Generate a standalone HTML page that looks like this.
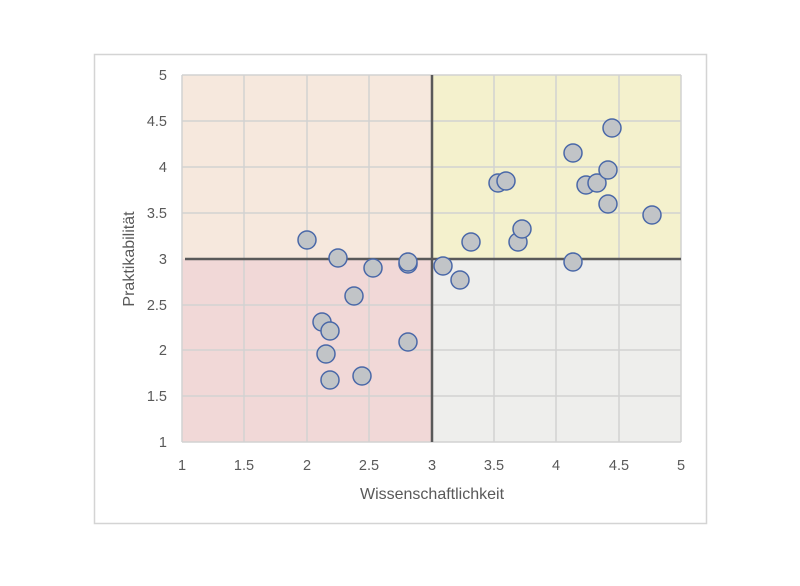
<!DOCTYPE html>
<html><head><meta charset="utf-8"><style>body{margin:0;background:#fff}</style></head><body>
<svg width="800" height="581" xmlns="http://www.w3.org/2000/svg" font-family="Liberation Sans, sans-serif">
<rect x="0" y="0" width="800" height="581" fill="#fff"/>
<rect x="94.5" y="54.5" width="612" height="469" fill="#fff" stroke="#d4d4d4" stroke-width="1.5"/>
<rect x="182" y="75" width="250" height="184" fill="#f6e8dd"/>
<rect x="432" y="75" width="249" height="184" fill="#f4f1cd"/>
<rect x="182" y="259" width="250" height="183" fill="#f1d8d7"/>
<rect x="432" y="259" width="249" height="183" fill="#eeeeec"/>
<g stroke="#d2d2d2" stroke-width="1.5">
<line x1="244" y1="75" x2="244" y2="442"/><line x1="307" y1="75" x2="307" y2="442"/><line x1="369" y1="75" x2="369" y2="442"/>
<line x1="494" y1="75" x2="494" y2="442"/><line x1="556" y1="75" x2="556" y2="442"/><line x1="619" y1="75" x2="619" y2="442"/><line x1="681" y1="75" x2="681" y2="442"/>
<line x1="182" y1="75" x2="681" y2="75"/><line x1="182" y1="121" x2="681" y2="121"/><line x1="182" y1="167" x2="681" y2="167"/><line x1="182" y1="213" x2="681" y2="213"/>
<line x1="182" y1="305" x2="681" y2="305"/><line x1="182" y1="350" x2="681" y2="350"/><line x1="182" y1="396" x2="681" y2="396"/><line x1="182" y1="442" x2="681" y2="442"/>
<line x1="182" y1="75" x2="182" y2="442"/>
</g>
<line x1="432" y1="75" x2="432" y2="442" stroke="#595959" stroke-width="2.5"/>
<line x1="185" y1="259" x2="681" y2="259" stroke="#595959" stroke-width="2.5"/>
<g fill="#c1c4c7" stroke="#4a68a8" stroke-width="1.5">
<circle cx="307" cy="240" r="9"/><circle cx="338" cy="258" r="9"/><circle cx="373" cy="268" r="9"/><circle cx="408" cy="264" r="9"/><circle cx="408" cy="262" r="9"/>
<circle cx="354" cy="296" r="9"/><circle cx="322" cy="322" r="9"/><circle cx="330" cy="331" r="9"/><circle cx="326" cy="354" r="9"/><circle cx="330" cy="380" r="9"/><circle cx="362" cy="376" r="9"/><circle cx="408" cy="342" r="9"/>
<circle cx="443" cy="266" r="9"/><circle cx="460" cy="280" r="9"/><circle cx="471" cy="242" r="9"/><circle cx="498" cy="183" r="9"/><circle cx="506" cy="181" r="9"/><circle cx="518" cy="242" r="9"/><circle cx="522" cy="229" r="9"/>
<circle cx="573" cy="153" r="9"/><circle cx="573" cy="262" r="9"/><circle cx="586" cy="185" r="9"/><circle cx="597" cy="183" r="9"/><circle cx="608" cy="170" r="9"/><circle cx="608" cy="204" r="9"/><circle cx="612" cy="128" r="9"/><circle cx="652" cy="215" r="9"/>
</g>
<g font-size="14.5" fill="#595959" text-anchor="end">
<text x="167" y="80">5</text><text x="167" y="126">4.5</text><text x="167" y="172">4</text><text x="167" y="218">3.5</text><text x="167" y="264">3</text><text x="167" y="310">2.5</text><text x="167" y="355">2</text><text x="167" y="401">1.5</text><text x="167" y="447">1</text>
</g>
<g font-size="14.5" fill="#595959" text-anchor="middle">
<text x="182" y="470">1</text><text x="244" y="470">1.5</text><text x="307" y="470">2</text><text x="369" y="470">2.5</text><text x="432" y="470">3</text><text x="494" y="470">3.5</text><text x="556" y="470">4</text><text x="619" y="470">4.5</text><text x="681" y="470">5</text>
<text x="432" y="499" font-size="16">Wissenschaftlichkeit</text>
<text transform="translate(134,259) rotate(-90)" font-size="16">Praktikabilität</text>
</g>
</svg>
</body></html>
